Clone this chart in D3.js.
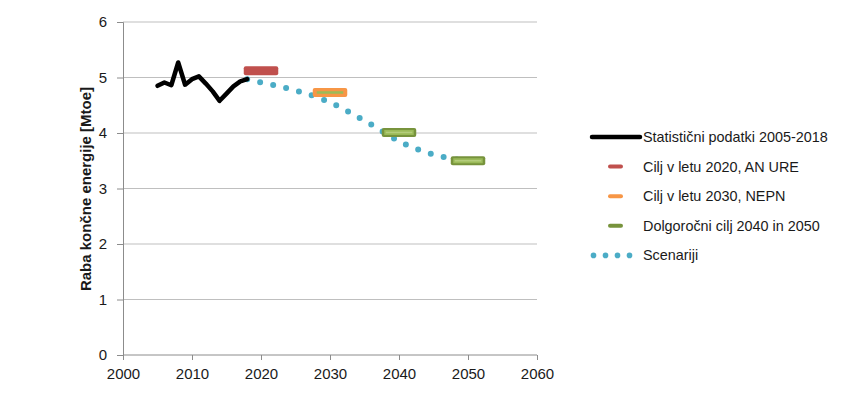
<!DOCTYPE html>
<html>
<head>
<meta charset="utf-8">
<script src="https://cdn.jsdelivr.net/npm/d3@7"></script>
<style>
  body { margin: 0; background: #fff; }
  text { font-family: "Liberation Sans", Arial, sans-serif; fill: #1a1a1a; }
</style>
</head>
<body>
<script>
// statistics 2005-2018
var histYears = [2005, 2006, 2007, 2008, 2009, 2010, 2011, 2012, 2013, 2014, 2015, 2016, 2017, 2018];
var histValues = [4.85, 4.91, 4.86, 5.27, 4.87, 4.97, 5.02, 4.89, 4.75, 4.58, 4.71, 4.84, 4.93, 4.97];

// scenario 2018-2050
var scenYears = [2018, 2020, 2022, 2024, 2026, 2028, 2030, 2032, 2034, 2036, 2038, 2040, 2042, 2044, 2046, 2048, 2050];
var scenValues = [4.97, 4.91, 4.86, 4.80, 4.73, 4.65, 4.55, 4.43, 4.29, 4.15, 4.00, 3.85, 3.74, 3.65, 3.58, 3.53, 3.50];

// targets
var targetYears = [2020, 2030, 2040, 2050];
var targetValues = [5.12, 4.73, 4.01, 3.50];
var targetKind = ["ure", "nepn", "long", "long"];

var xTicks = [2000, 2010, 2020, 2030, 2040, 2050, 2060];
var yTicks = [0, 1, 2, 3, 4, 5, 6];

var legendLabels = ["Statistični podatki 2005-2018", "Cilj v letu 2020, AN URE", "Cilj v letu 2030, NEPN",
  "Dolgoročni cilj 2040 in 2050", "Scenariji"];

var svgWidth = 846;
var svgHeight = 393;

var margin = { top: 22, right: 309, bottom: 38, left: 123 };
var width = svgWidth - margin.left - margin.right;
var height = svgHeight - margin.top - margin.bottom;

var svg = d3.select("body")
  .append("svg")
  .attr("width", svgWidth)
  .attr("height", svgHeight);

var chartGroup = svg.append("g")
  .attr("transform", `translate(${margin.left}, ${margin.top})`);

var xScale = d3.scaleLinear().domain([2000, 2060]).range([0, width]);
var yScale = d3.scaleLinear().domain([0, 6]).range([height, 0]);

// horizontal gridlines
chartGroup.selectAll(".grid")
  .data(yTicks.filter(d => d > 0))
  .enter().append("line")
  .attr("x1", 0).attr("x2", width)
  .attr("y1", d => yScale(d)).attr("y2", d => yScale(d))
  .attr("stroke", "#bfbfbf").attr("stroke-width", 1);

// axes
var leftAxis = d3.axisLeft(yScale).tickValues(yTicks).tickSize(6).tickPadding(10).tickFormat(d3.format("d"));
var bottomAxis = d3.axisBottom(xScale).tickValues(xTicks).tickSize(5).tickPadding(8).tickFormat(d3.format("d"));

var yAxisG = chartGroup.append("g").call(leftAxis);
var xAxisG = chartGroup.append("g").attr("transform", "translate(0, " + height + ")").call(bottomAxis);

[yAxisG, xAxisG].forEach(function(g) {
  g.select(".domain").attr("stroke", "#8c8c8c");
  g.selectAll(".tick line").attr("stroke", "#8c8c8c");
  g.selectAll("text").style("font-size", "15px").attr("fill", "#1a1a1a");
});
xAxisG.select(".domain").attr("d", "M0,0H" + width);

// y label
chartGroup.append("text")
  .attr("transform", "translate(-38," + (height / 2 + 0.5) + ") rotate(-90)")
  .attr("text-anchor", "middle")
  .attr("dominant-baseline", "central")
  .style("font-size", "15px")
  .style("font-weight", "bold")
  .text("Raba končne energije [Mtoe]");

// scenario dotted line
var scenLine = d3.line()
  .x((d, i) => xScale(scenYears[i]))
  .y(d => yScale(d))
  .curve(d3.curveMonotoneX);

chartGroup.append("path")
  .attr("d", scenLine(scenValues))
  .attr("fill", "none")
  .attr("stroke", "#4bacc6")
  .attr("stroke-width", 6)
  .attr("stroke-linecap", "round")
  .attr("stroke-dasharray", "0 13.3");

// historical line
var histLine = d3.line()
  .x((d, i) => xScale(histYears[i]))
  .y(d => yScale(d));

chartGroup.append("path")
  .attr("d", histLine(histValues))
  .attr("fill", "none")
  .attr("stroke", "#000")
  .attr("stroke-width", 4.5)
  .attr("stroke-linejoin", "round")
  .attr("stroke-linecap", "round");

// target bars
var barH = 9;
targetYears.forEach(function(yr, i) {
  var x0 = xScale(yr - 2.5), x1 = xScale(yr + 2.5), y = yScale(targetValues[i]);
  var kind = targetKind[i];
  var outer = kind === "ure" ? "#c0504d" : kind === "nepn" ? "#f79646" : "#77933c";
  chartGroup.append("rect")
    .attr("x", x0).attr("y", y - barH / 2)
    .attr("width", x1 - x0).attr("height", barH)
    .attr("rx", 2)
    .attr("fill", outer);
  if (kind === "long") {
    chartGroup.append("rect")
      .attr("x", x0 + 2.5).attr("y", y - 2.5)
      .attr("width", x1 - x0 - 5).attr("height", 5)
      .attr("fill", "#9bbb59");
    chartGroup.append("line")
      .attr("x1", x0 + 4).attr("x2", x1 - 4)
      .attr("y1", y).attr("y2", y)
      .attr("stroke", "#b4cd7c").attr("stroke-width", 1.5);
  } else if (kind === "nepn") {
    chartGroup.append("line")
      .attr("x1", x0 + 4).attr("x2", x1 - 4)
      .attr("y1", y).attr("y2", y)
      .attr("stroke", "#9bbb59").attr("stroke-width", 2.5);
  }
});

// legend
var legend = svg.append("g").attr("transform", "translate(592, 137)");
var rowGap = 29.6;

legendLabels.forEach(function(label, i) {
  var g = legend.append("g").attr("transform", "translate(0," + (i * rowGap) + ")");
  if (i === 0) {
    g.append("line").attr("x1", 0).attr("x2", 48).attr("y1", 0).attr("y2", 0)
      .attr("stroke", "#000").attr("stroke-width", 4.5).attr("stroke-linecap", "round");
  } else if (i === 4) {
    g.selectAll("circle").data([0, 1, 2, 3]).enter().append("circle")
      .attr("cx", d => 1.5 + d * 12).attr("cy", 0).attr("r", 2.8)
      .attr("fill", "#4bacc6");
  } else {
    var col = ["#c0504d", "#f79646", "#77933c"][i - 1];
    g.append("line").attr("x1", 18).attr("x2", 29).attr("y1", 0).attr("y2", 0)
      .attr("stroke", col).attr("stroke-width", 4).attr("stroke-linecap", "round");
  }
  g.append("text")
    .attr("x", 51).attr("y", 0)
    .attr("dominant-baseline", "central")
    .style("font-size", "14.4px")
    .text(label);
});
</script>
</body>
</html>
